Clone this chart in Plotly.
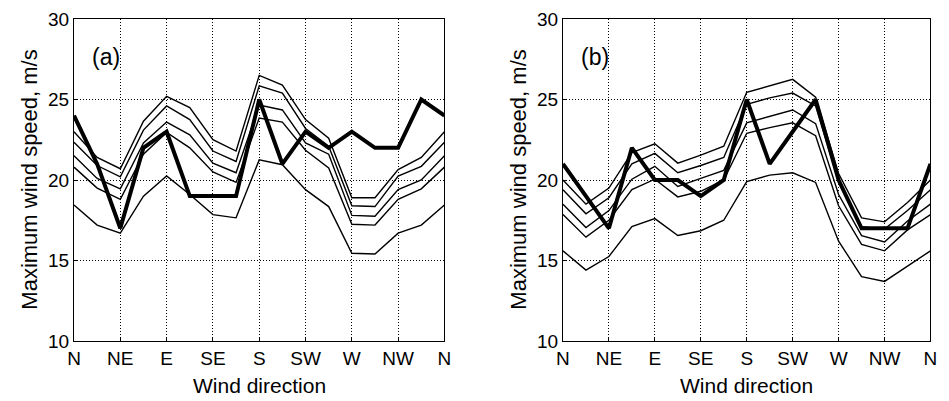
import plotly.graph_objects as go

directions = ["N", "NNE", "NE", "ENE", "E", "ESE", "SE", "SSE", "S",
              "SSW", "SW", "WSW", "W", "WNW", "NW", "NNW", "N"]
tick_labels = ["N", "NE", "E", "SE", "S", "SW", "W", "NW", "N"]

# Panel (a): thin curves (top to bottom) and observed (thick)
a1 = [23.0, 21.4, 20.7, 23.65, 25.2, 24.5, 22.5, 21.8, 26.5, 25.9, 23.75, 22.6, 18.9, 18.9, 20.65, 21.4, 23.0]
a2 = [22.35, 20.9, 20.2, 23.1, 24.6, 23.75, 21.8, 21.15, 25.85, 25.4, 23.2, 22.1, 18.4, 18.35, 20.25, 20.85, 22.35]
a3 = [21.5, 20.1, 19.45, 22.3, 23.6, 22.8, 21.05, 20.45, 24.65, 24.35, 22.3, 21.6, 17.8, 17.75, 19.4, 20.0, 21.5]
a4 = [20.8, 19.5, 18.8, 21.6, 22.95, 22.0, 20.5, 19.85, 23.85, 23.6, 21.85, 20.75, 17.25, 17.2, 18.8, 19.45, 20.8]
a5 = [18.45, 17.2, 16.7, 19.0, 20.25, 19.1, 17.85, 17.65, 21.25, 20.95, 19.4, 18.35, 15.45, 15.4, 16.7, 17.2, 18.45]
a_obs = [24, 21, 17, 22, 23, 19, 19, 19, 25, 21, 23, 22, 23, 22, 22, 25, 24]

# Panel (b)
b1 = [20.0, 18.5, 19.5, 21.7, 22.25, 21.05, 21.55, 22.1, 25.45, 25.85, 26.25, 25.15, 20.4, 17.65, 17.4, 18.6, 20.0]
b2 = [19.4, 17.9, 18.9, 21.0, 21.65, 20.45, 20.9, 21.4, 24.7, 25.1, 25.4, 24.6, 19.9, 17.1, 16.95, 18.1, 19.4]
b3 = [18.5, 17.05, 18.1, 20.05, 20.85, 19.6, 20.1, 20.6, 23.55, 23.95, 24.35, 23.5, 19.1, 16.55, 16.15, 17.45, 18.5]
b4 = [17.85, 16.45, 17.5, 19.4, 20.05, 18.95, 19.3, 20.0, 22.9, 23.25, 23.55, 22.75, 18.4, 16.0, 15.6, 16.9, 17.85]
b5 = [15.6, 14.4, 15.25, 17.1, 17.6, 16.55, 16.85, 17.5, 19.9, 20.3, 20.45, 19.85, 16.2, 14.0, 13.7, 14.65, 15.6]
b_obs = [21, 19, 17, 22, 20, 20, 19, 20, 25, 21, 23, 25, 20, 17, 17, 17, 21]

xs = list(range(len(directions)))
tick_pos = xs[::2]

FONT = "Liberation Sans, Arial, sans-serif"
fig = go.Figure()

for ax, thin, obs in [("", [a1, a2, a3, a4, a5], a_obs), ("2", [b1, b2, b3, b4, b5], b_obs)]:
    for s in thin:
        fig.add_trace(go.Scatter(x=xs, y=s, mode="lines", xaxis="x" + ax, yaxis="y" + ax,
                                 line=dict(color="black", width=1.4), hoverinfo="skip"))
    fig.add_trace(go.Scatter(x=xs, y=obs, mode="lines", xaxis="x" + ax, yaxis="y" + ax,
                             line=dict(color="black", width=4), hoverinfo="skip"))

W, H = 949, 401
dom_a = [68 / W, 444 / W]
dom_b = [564.3 / W, 937.3 / W]

axis_common = dict(showgrid=True, gridcolor="black", griddash="1px,2px", gridwidth=1,
                   showline=True, linecolor="black", linewidth=1.3, mirror=True,
                   ticks="inside", ticklen=4, tickcolor="black", zeroline=False,
                   tickfont=dict(family=FONT, size=19, color="black"))

xaxis_common = dict(axis_common, range=[0, 16], tickvals=tick_pos, ticktext=tick_labels)
yaxis_common = dict(axis_common, range=[10, 30], tickvals=[10, 15, 20, 25, 30])

fig.update_layout(
    width=W, height=H,
    margin=dict(l=0, r=0, t=19, b=60),
    paper_bgcolor="white", plot_bgcolor="white",
    showlegend=False,
    xaxis=dict(xaxis_common, domain=dom_a, anchor="y"),
    yaxis=dict(yaxis_common, domain=[0, 1], anchor="x"),
    xaxis2=dict(xaxis_common, domain=dom_b, anchor="y2"),
    yaxis2=dict(yaxis_common, domain=[0, 1], anchor="x2"),
)

ann = []
for dom, label, xr, yr in [(dom_a, "(a)", "x", "y"), (dom_b, "(b)", "x2", "y2")]:
    ann.append(dict(x=0.68, y=27.65, xref=xr, yref=yr, text=label, showarrow=False,
                    xanchor="left", yanchor="middle", font=dict(family=FONT, size=23, color="black")))
    ann.append(dict(x=(dom[0] + dom[1]) / 2, y=-(385 - 341) / 322, xref="paper", yref="paper",
                    text="Wind direction", showarrow=False, xanchor="center", yanchor="middle",
                    font=dict(family=FONT, size=21, color="black")))
    ann.append(dict(x=dom[0] - 46 / W, y=0.5, xref="paper", yref="paper",
                    text="Maximum wind speed, m/s", showarrow=False, textangle=-90,
                    xanchor="center", yanchor="middle",
                    font=dict(family=FONT, size=22, color="black")))
fig.update_layout(annotations=ann)

fig.write_html("out.html")
